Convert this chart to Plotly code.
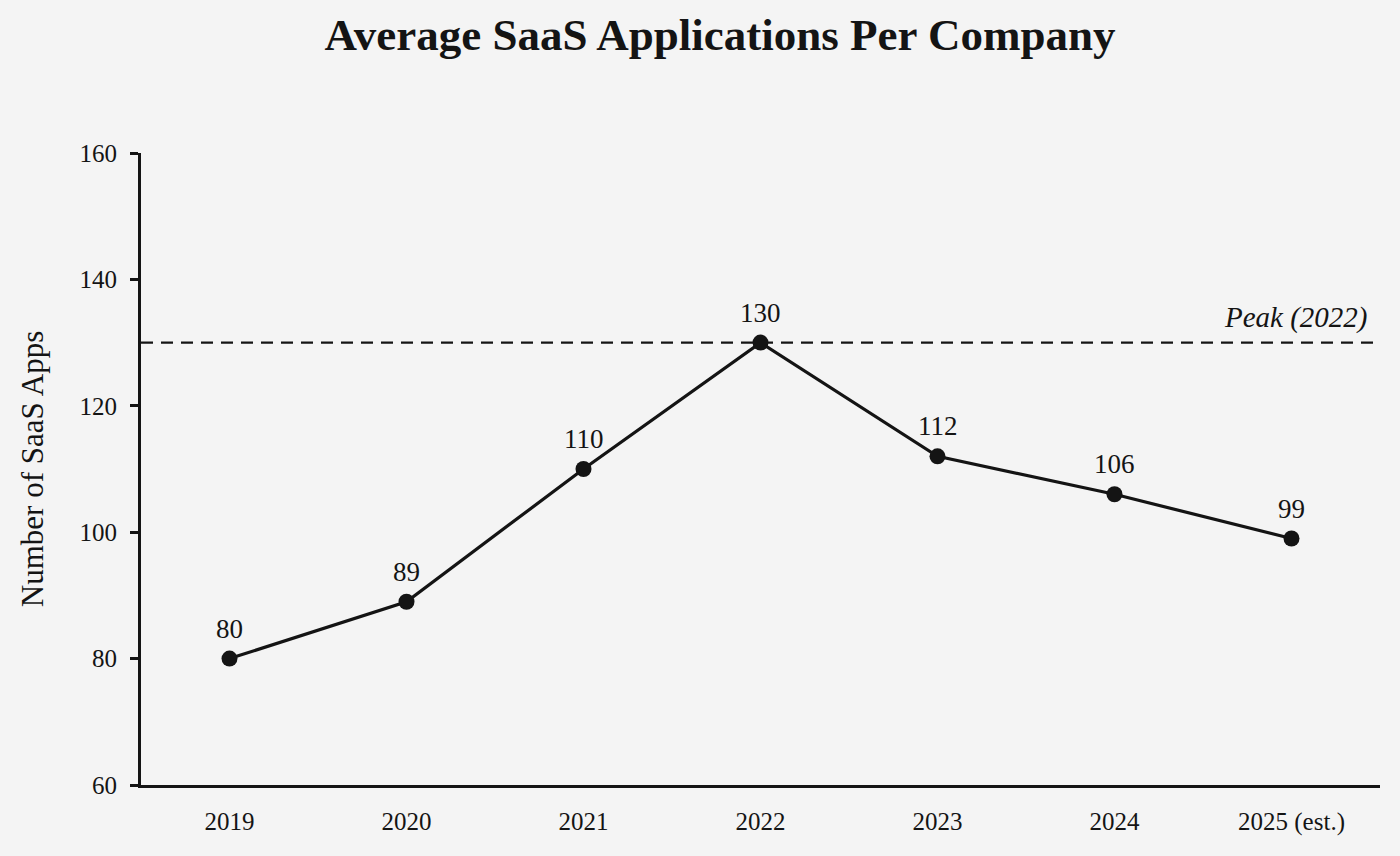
import plotly.graph_objects as go

years = ["2019", "2020", "2021", "2022", "2023", "2024", "2025 (est.)"]
apps = [80, 89, 110, 130, 112, 106, 99]
peak_value = 130
peak_label = "Peak (2022)"
y_ticks = [60, 80, 100, 120, 140, 160]

ink = "#141414"
bg = "#f4f4f4"
serif = "Liberation Serif, Times New Roman, serif"

fig = go.Figure()

fig.add_trace(go.Scatter(
    x=years, y=apps, mode="lines+markers",
    line=dict(color=ink, width=3.2),
    marker=dict(color=ink, size=16),
    hoverinfo="x+y", showlegend=False,
))

# value labels above each point (x by category index, "2019" would be read as a number)
for i, v in enumerate(apps):
    fig.add_annotation(x=i, y=v, text=str(v), showarrow=False,
                       yshift=30, font=dict(size=27, color=ink, family=serif))

# dashed reference line at the peak
fig.add_shape(type="line", xref="paper", x0=0, x1=1, yref="y",
              y0=peak_value, y1=peak_value,
              line=dict(color=ink, width=2.3, dash="12px,8px"))
fig.add_annotation(xref="paper", x=0.992, y=peak_value, yref="y",
                   text="<i>" + peak_label + "</i>", showarrow=False,
                   xanchor="right", yanchor="bottom", yshift=7,
                   font=dict(size=29, color=ink, family=serif))

fig.update_layout(
    width=1400, height=856,
    paper_bgcolor=bg, plot_bgcolor=bg,
    margin=dict(l=141, r=20, t=153, b=71),
    font=dict(family=serif, color=ink),
    title=dict(text="<b>Average SaaS Applications Per Company</b>",
               x=0.5143, xanchor="center", y=0.96, yanchor="middle",
               font=dict(size=45, family=serif, color=ink)),
)

fig.update_xaxes(
    type="category", range=[-0.5, 6.5],
    showline=True, linecolor=ink, linewidth=3,
    showgrid=False, zeroline=False, ticks="",
    ticklabelstandoff=12,
    tickfont=dict(size=25, family=serif, color=ink),
)
fig.update_yaxes(
    range=[60, 160], tickvals=y_ticks,
    showline=True, linecolor=ink, linewidth=3,
    showgrid=False, zeroline=False,
    ticks="outside", ticklen=8, tickwidth=3, tickcolor=ink,
    ticklabelstandoff=8,
    tickfont=dict(size=25, family=serif, color=ink),
    title=dict(text="Number of SaaS Apps", standoff=27,
               font=dict(size=31, family=serif, color=ink)),
)

# drop the page's default 8px body margin so the figure fills the window
fig.write_html("out.html", config={"displayModeBar": False},
               post_script="document.body.style.margin='0';"
                           "document.body.style.background='" + bg + "';")
